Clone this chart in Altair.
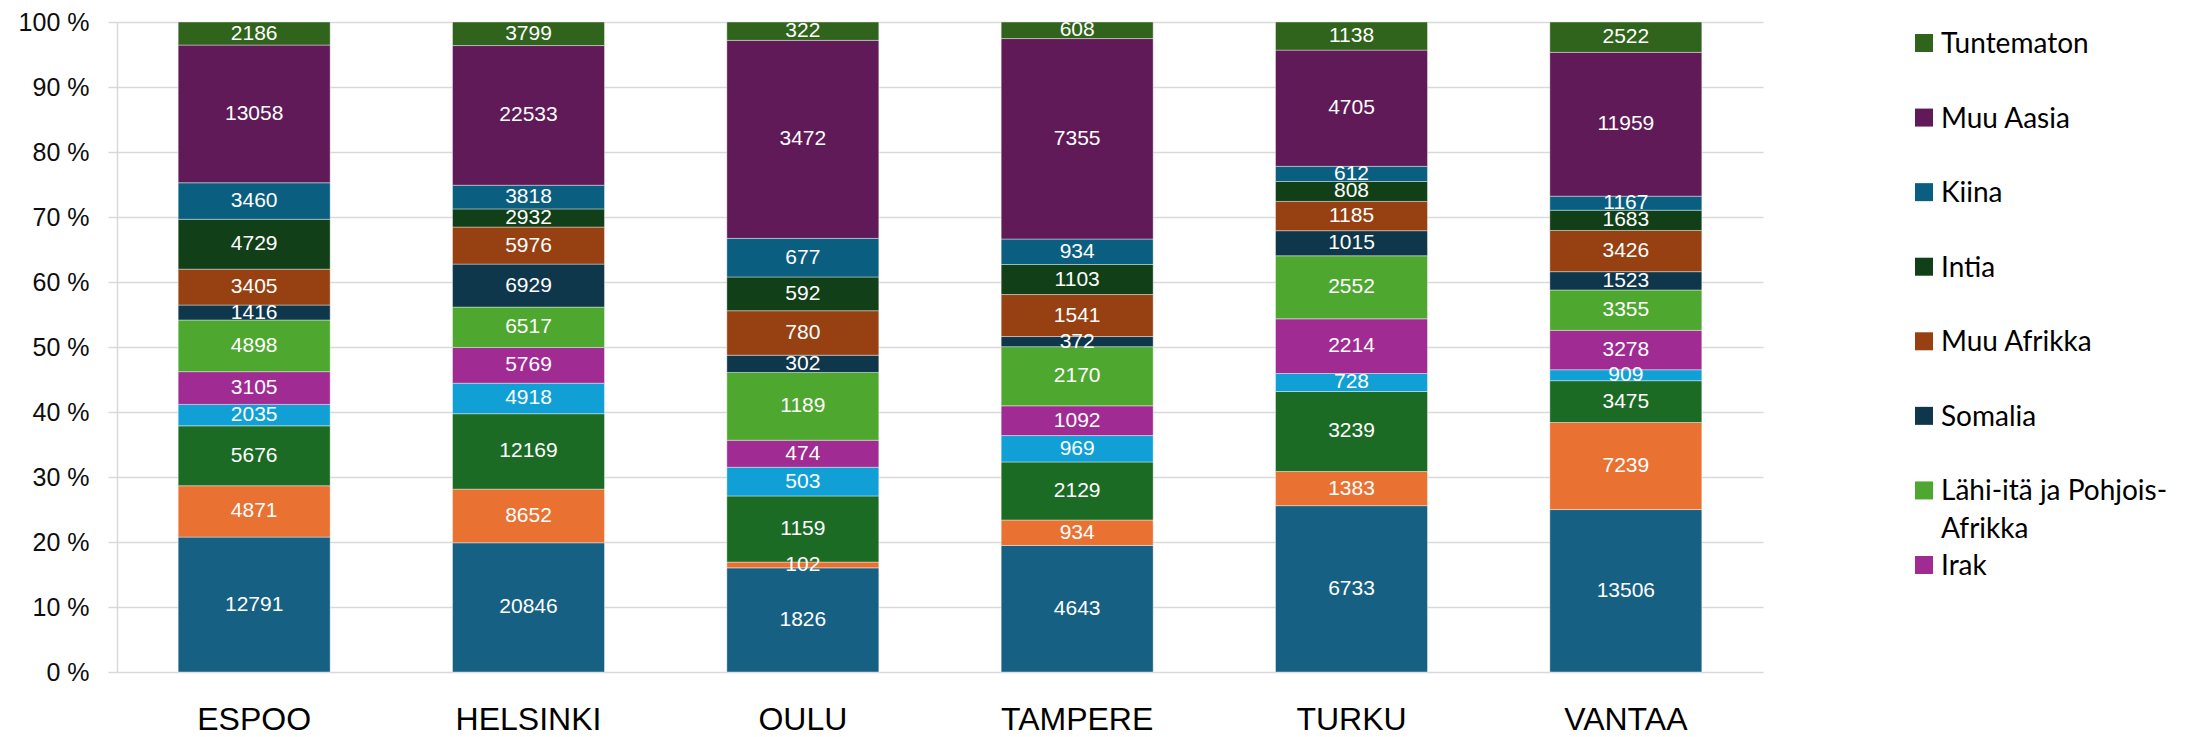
import altair as alt
import pandas as pd

cities = ["ESPOO", "HELSINKI", "OULU", "TAMPERE", "TURKU", "VANTAA"]

# stacking order, bottom -> top
categories = ["Venäjä", "Viro", "Muu Eurooppa", "Ukraina", "Irak",
              "Lähi-itä ja Pohjois-Afrikka", "Somalia", "Muu Afrikka",
              "Intia", "Kiina", "Muu Aasia", "Tuntematon"]
colors = ["#166083", "#E97132", "#1B6B24", "#11A0D6", "#A02B93",
          "#4EA72E", "#0E374C", "#974012", "#113F17", "#0A5E80",
          "#5F1A57", "#30631C"]

espoo = [12791, 4871, 5676, 2035, 3105, 4898, 1416, 3405, 4729, 3460, 13058, 2186]
helsinki = [20846, 8652, 12169, 4918, 5769, 6517, 6929, 5976, 2932, 3818, 22533, 3799]
oulu = [1826, 102, 1159, 503, 474, 1189, 302, 780, 592, 677, 3472, 322]
tampere = [4643, 934, 2129, 969, 1092, 2170, 372, 1541, 1103, 934, 7355, 608]
turku = [6733, 1383, 3239, 728, 2214, 2552, 1015, 1185, 808, 612, 4705, 1138]
vantaa = [13506, 7239, 3475, 909, 3278, 3355, 1523, 3426, 1683, 1167, 11959, 2522]

legend_items = ["Tuntematon", "Muu Aasia", "Kiina", "Intia", "Muu Afrikka",
                "Somalia", "Lähi-itä ja Pohjois-Afrikka", "Irak"]

y_ticks = [0, 0.1, 0.2, 0.3, 0.4, 0.5, 0.6, 0.7, 0.8, 0.9, 1.0]

rows = []
for city, vals in zip(cities, [espoo, helsinki, oulu, tampere, turku, vantaa]):
    for i, (c, v) in enumerate(zip(categories, vals)):
        rows.append({"city": city, "cat": c, "ord": i, "value": v})
df = pd.DataFrame(rows)
leg_df = pd.DataFrame({"cat": legend_items})

FONT = "Liberation Sans"
LEG_FONT = "Lato"
GRID = "#d9d9d9"
color_scale = alt.Scale(domain=categories, range=colors)

x_enc = alt.X("city:N", sort=cities,
              scale=alt.Scale(paddingInner=0.446, paddingOuter=0.223),
              axis=alt.Axis(title=None, labelFontSize=32, labelFont=FONT,
                            labelColor="#000000", labelPadding=32, ticks=False,
                            domain=False, labelAngle=0))

bars = alt.Chart(df).mark_bar(stroke="#ffffff", strokeWidth=0.8, strokeOpacity=0.5).encode(
    x=x_enc,
    y=alt.Y("value:Q", stack="normalize", scale=alt.Scale(domain=[0, 1]),
            axis=alt.Axis(title=None, values=y_ticks,
                          labelExpr="round(datum.value*100) + ' %'",
                          labelFont=FONT, labelFontSize=25, labelColor="#0d0d0d",
                          labelPadding=19, tickSize=9, tickColor=GRID, tickWidth=1.5,
                          grid=True, gridColor=GRID, gridWidth=1.5,
                          domain=True, domainColor=GRID, domainWidth=1.5)),
    color=alt.Color("cat:N", scale=color_scale, legend=None),
    order=alt.Order("ord:Q", sort="ascending"),
)

labels = alt.Chart(df).transform_joinaggregate(
    total="sum(value)", groupby=["city"]
).transform_window(
    cum="sum(value)", sort=[alt.SortField("ord")], groupby=["city"], frame=[None, 0]
).transform_calculate(
    mid="(datum.cum - datum.value/2)/datum.total"
).mark_text(color="white", fontSize=21, font=FONT, baseline="middle").encode(
    x=x_enc,
    y=alt.Y("mid:Q", scale=alt.Scale(domain=[0, 1]), axis=None),
    text=alt.Text("value:Q", format="d"),
)

leg_y = alt.Y("cat:N", sort=legend_items,
              scale=alt.Scale(type="point", range=[21, 543], padding=0), axis=None)

swatches = alt.Chart(leg_df).mark_square(size=324, opacity=1).encode(
    x=alt.value(1807),
    y=leg_y,
    color=alt.Color("cat:N", scale=color_scale, legend=None),
)

leg_text = alt.Chart(leg_df).transform_calculate(
    disp="replace(datum.cat, 'Pohjois-', 'Pohjois-\\n')"
).mark_text(align="left", baseline="alphabetic", dy=10, fontSize=28, font=LEG_FONT,
            lineBreak="\n", lineHeight=38, color="#000000").encode(
    x=alt.value(1824),
    y=leg_y,
    text="disp:N",
)

chart = alt.layer(bars, labels, swatches, leg_text).resolve_scale(
    y="independent"
).properties(
    width=1646, height=650,
    padding={"left": 10, "top": 2, "right": 5, "bottom": 0},
).configure_view(stroke=None)

chart.save("out.html", embed_options={"renderer": "svg", "actions": False})
